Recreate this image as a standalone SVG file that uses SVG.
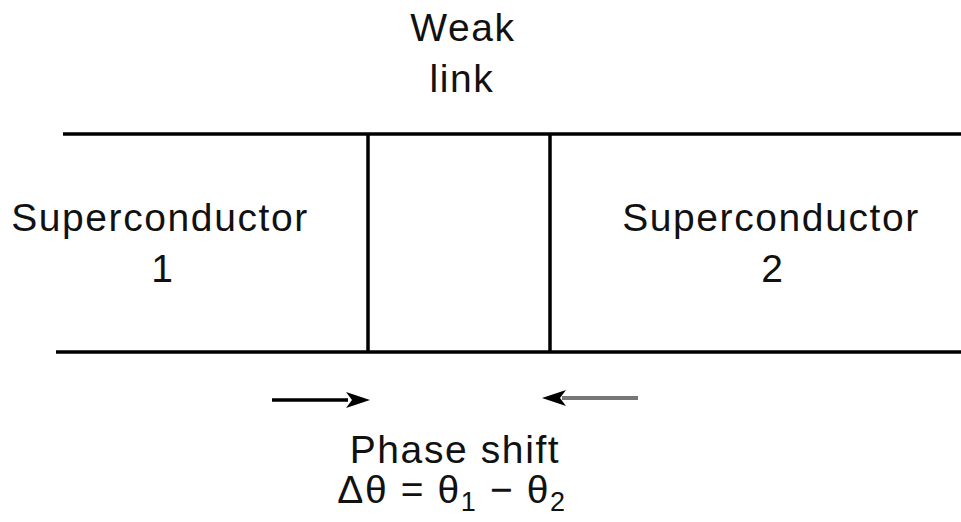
<svg xmlns="http://www.w3.org/2000/svg" width="961" height="522" viewBox="0 0 961 522">
<style>
text{font-family:"Liberation Sans",Arial,sans-serif;font-size:39px;fill:#111;text-anchor:middle;letter-spacing:1.6px}
.ln{stroke:#000;stroke-width:3.5;fill:none}
.head{fill:#000}
</style>
<rect width="961" height="522" fill="#fff"/>
<g id="structure">
<line class="ln" x1="63" y1="134" x2="961" y2="134"/>
<line class="ln" x1="56" y1="352" x2="961" y2="352"/>
<line class="ln" x1="368" y1="134" x2="368" y2="352"/>
<line class="ln" x1="550" y1="134" x2="550" y2="352"/>
</g>
<g id="sc1"><text x="160" y="231">Superconductor</text><text x="163" y="282">1</text></g>
<g id="sc2"><text x="771" y="231">Superconductor</text><text x="773" y="282">2</text></g>
<g id="weaklink"><text x="463" y="41">Weak</text><text x="462" y="92">link</text></g>
<g id="connectors">
<line x1="272" y1="400" x2="348" y2="400" stroke="#000" stroke-width="3.5"/>
<path class="head" d="M370,400 L346,392 L352,400 L346,408 Z"/>
<line x1="638" y1="398" x2="562" y2="398" stroke="#777" stroke-width="4"/>
<path class="head" d="M542,398 L566,390 L560,398 L566,406 Z"/>
</g>
<g id="phase"><text x="455" y="463">Phase shift</text>
<text x="452" y="503">Δθ = θ<tspan font-size="27" dy="8">1</tspan><tspan dy="-8"> − θ</tspan><tspan font-size="27" dy="8">2</tspan></text></g>
</svg>
